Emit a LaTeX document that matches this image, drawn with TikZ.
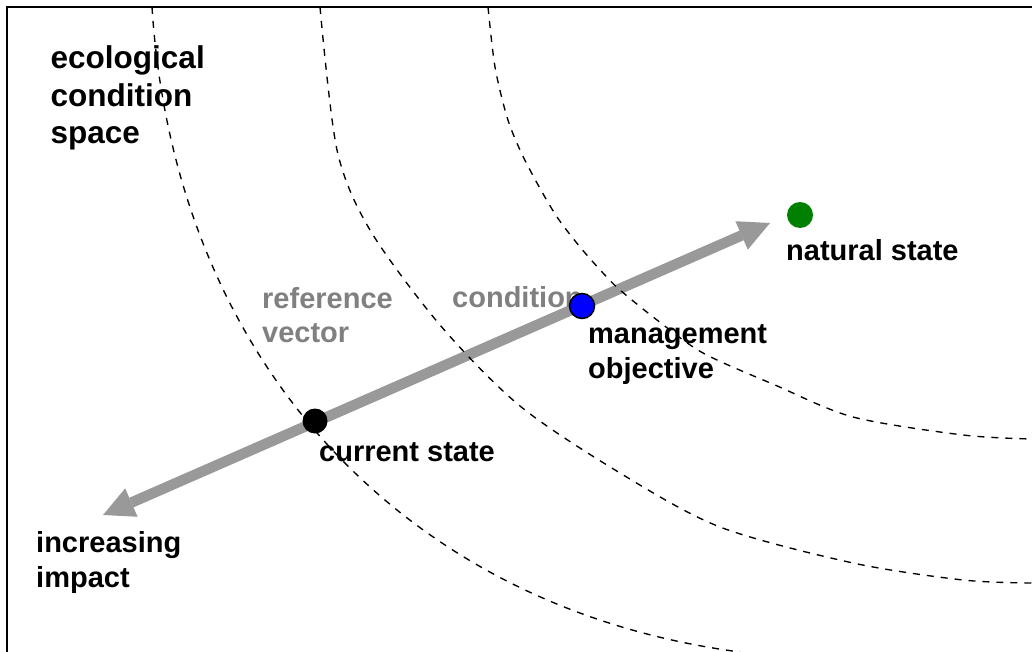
\documentclass[tikz,border=0pt]{standalone}
\usepackage{fontspec}
\setmainfont{Liberation Sans}
\usetikzlibrary{arrows.meta}
\definecolor{vecgray}{RGB}{153,153,153}
\definecolor{labelgray}{RGB}{128,128,128}
\definecolor{natgreen}{RGB}{0,128,0}
\tikzset{vectip/.tip={Triangle[length=31pt,width=31pt,line width=0pt]}}
\begin{document}
\begin{tikzpicture}[x=1pt,y=-1pt,
  % multi-line labels are placed by the baseline of their last line
  lbl/.style={inner sep=0pt, anchor=base west, align=left,
    font=\bfseries\fontsize{29}{34.5}\selectfont},
  biglbl/.style={lbl, font=\bfseries\fontsize{31.5}{37.5}\selectfont},
  graylbl/.style={lbl, text=labelgray},
  iso/.style={line width=1.35pt, dash pattern=on 7pt off 7pt},
  vec/.style={draw=vecgray, line width=10.5pt, vectip-vectip},
  dot/.style={circle, inner sep=0pt, minimum size=25pt},
]
\useasboundingbox (0,0) rectangle (1032,652);
\clip (0,0) rectangle (1032,652);

% frame (only its top and left sides fall inside the page)
\draw[line width=2pt] (1040,7) -- (7,7) -- (7,660);

% reference vector
\coordinate (impactTip) at (103,515);
\coordinate (naturalTip) at (770,223);
\draw[vec] (impactTip) -- (naturalTip);

% iso-condition contours
\draw[iso] (152,7) .. controls (175,367) and (410,609) .. (740,652);
\draw[iso] plot[smooth] coordinates {(320,7) (337,150) (370,230) (440,325)
  (520,406) (620,473) (720,527) (853,563) (963,580) (1032,583)};
\draw[iso] plot[smooth] coordinates {(488,7) (495,67) (507,117) (520,150)
  (537,183) (557,217) (580,247) (603,273) (620,290) (657,320) (703,353)
  (775,385) (853,417) (963,435) (1032,439)};

% labels
\node[biglbl] (space) at (50.5,144) {ecological\\condition\\space};
\node[lbl] (natlbl) at (786,260) {natural state};
\node[graylbl] (reflbl) at (262,342.5) {reference\\vector};
\node[graylbl] (condlbl) at (452,307.7) {condition};
\node[lbl] (objlbl) at (588,378) {management\\objective};
\node[lbl] (curlbl) at (319,461) {current state};
\node[lbl] (implbl) at (36,587) {increasing\\impact};

% states
\node[dot, fill=black] (cur) at (315,421) {};
\node[dot, fill=blue, draw=black, line width=1.5pt] (obj) at (582,306) {};
\node[dot, fill=natgreen, minimum size=26pt] (nat) at (800,215) {};
\end{tikzpicture}
\end{document}
